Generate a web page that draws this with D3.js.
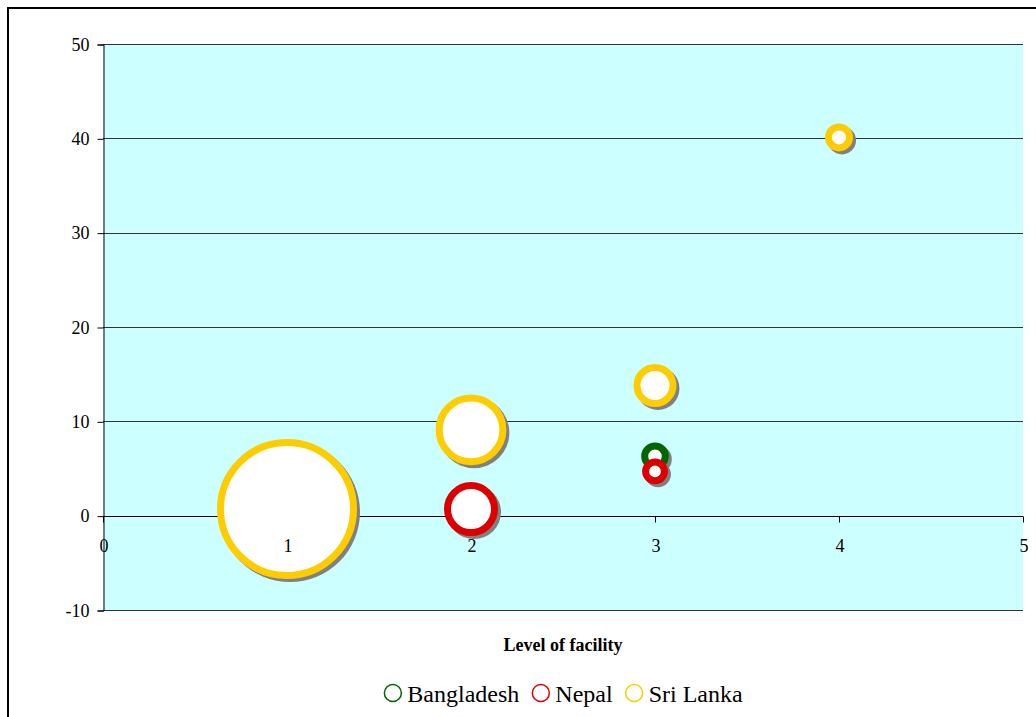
<!DOCTYPE html>
<html>
<head>
<meta charset="utf-8">
<script src="https://cdn.jsdelivr.net/npm/d3@7/dist/d3.min.js"></script>
<style>
  html, body { margin: 0; padding: 0; background: #fff; }
  svg { display: block; }
  text { font-family: "Liberation Serif", "Times New Roman", serif; fill: #000; }
</style>
</head>
<body>
<svg id="chart" width="1036" height="717"></svg>
<script>
// Series names and colours
const seriesNames = ["Bangladesh", "Nepal", "Sri Lanka"];
const seriesColors = ["#006600", "#dd0000", "#ffcc00"];

// Bubble data per country: facility level (x), value (y), bubble size
const bangladeshLevel = [3];
const bangladeshValue = [6.3];
const bangladeshSize  = [2.4];

const nepalLevel = [2, 3];
const nepalValue = [0.7, 4.7];
const nepalSize  = [12.5, 2.0];

const sriLankaLevel = [1, 2, 3, 4];
const sriLankaValue = [0.7, 9.1, 13.8, 40.1];
const sriLankaSize  = [100, 23, 7.3, 2.5];

// Axis ticks
const xTicks = [0, 1, 2, 3, 4, 5];
const yTicks = [-10, 0, 10, 20, 30, 40, 50];
const xTitle = "Level of facility";

const series = [
  { name: seriesNames[0], color: seriesColors[0], level: bangladeshLevel, value: bangladeshValue, size: bangladeshSize },
  { name: seriesNames[1], color: seriesColors[1], level: nepalLevel, value: nepalValue, size: nepalSize },
  { name: seriesNames[2], color: seriesColors[2], level: sriLankaLevel, value: sriLankaValue, size: sriLankaSize }
];

const svg = d3.select("#chart");
const plot = { left: 103, right: 1023, top: 44, bottom: 610 };

const x = d3.scaleLinear().domain([0, 5]).range([plot.left, plot.right]);
const y = d3.scaleLinear().domain([-10, 50]).range([plot.bottom, plot.top]);
const r = d3.scaleSqrt().domain([0, 100]).range([0, 66.5]);
const ringWidth = 7;
const plain = d => String(d);   // ASCII hyphen for negatives
const y0 = Math.round(y(0)) + 0.5;

// Outer frame
svg.append("rect")
  .attr("x", 8).attr("y", 8)
  .attr("width", 1040).attr("height", 720)
  .attr("fill", "none").attr("stroke", "#000").attr("stroke-width", 2);

// Plot background
svg.append("rect")
  .attr("x", plot.left).attr("y", plot.top)
  .attr("width", plot.right - plot.left).attr("height", plot.bottom - plot.top)
  .attr("fill", "#ccffff");

// Horizontal gridlines
svg.append("g")
  .selectAll("line")
  .data(yTicks.filter(d => d !== 0))
  .join("line")
  .attr("x1", plot.left).attr("x2", plot.right)
  .attr("y1", d => Math.round(y(d)) + 0.5).attr("y2", d => Math.round(y(d)) + 0.5)
  .attr("stroke", "#333").attr("stroke-width", 1);

// Y axis (left)
const gy = svg.append("g")
  .attr("transform", `translate(${plot.left + 0.5},0.5)`)
  .call(d3.axisLeft(y).tickValues(yTicks).tickSize(6).tickPadding(8).tickFormat(plain));
gy.select(".domain").attr("stroke", "#000");
gy.selectAll(".tick line").attr("stroke", "#000");
gy.selectAll(".tick text")
  .attr("font-size", 18)
  .attr("font-family", "Liberation Serif, Times New Roman, serif")
  .attr("fill", "#000");

// X axis line and tick marks at y = 0, drawn beneath the bubbles
const xAxisLine = svg.append("g");
xAxisLine.append("line")
  .attr("x1", plot.left).attr("x2", plot.right)
  .attr("y1", y0).attr("y2", y0)
  .attr("stroke", "#000");
xAxisLine.selectAll("line.tk")
  .data(xTicks)
  .join("line")
  .attr("class", "tk")
  .attr("x1", d => Math.round(x(d)) + 0.5).attr("x2", d => Math.round(x(d)) + 0.5)
  .attr("y1", y0).attr("y2", y0 + 6)
  .attr("stroke", "#000");

// Bubbles with drop shadows
const points = series.flatMap(s => s.level.map((lv, i) => ({
  name: s.name, color: s.color, level: lv, value: s.value[i], size: s.size[i]
})));

const bubbles = svg.append("g");
points.forEach(p => {
  const cx = x(p.level), cy = y(p.value), rr = r(p.size);
  bubbles.append("circle")
    .attr("cx", cx + 3).attr("cy", cy + 3)
    .attr("r", rr + ringWidth / 2)
    .attr("fill", "#808080");
  bubbles.append("circle")
    .attr("cx", cx).attr("cy", cy)
    .attr("r", rr)
    .attr("fill", "#fff")
    .attr("stroke", p.color)
    .attr("stroke-width", ringWidth);
});

// X tick labels, above the bubbles
const gx = svg.append("g")
  .attr("transform", `translate(0.5,${y0})`)
  .call(d3.axisBottom(x).tickValues(xTicks).tickSize(0).tickFormat(plain));
gx.select(".domain").remove();
gx.selectAll(".tick line").remove();
gx.selectAll(".tick text")
  .attr("font-size", 18)
  .attr("font-family", "Liberation Serif, Times New Roman, serif")
  .attr("fill", "#000")
  .attr("dy", null)
  .attr("y", 35);

// X axis title
svg.append("text")
  .attr("x", (plot.left + plot.right) / 2)
  .attr("y", 651)
  .attr("text-anchor", "middle")
  .attr("font-size", 18)
  .attr("font-weight", "bold")
  .text(xTitle);

// Legend
const legend = svg.append("g");
let cursor = 0;
series.forEach(s => {
  const g = legend.append("g");
  g.append("circle")
    .attr("cx", 9.5).attr("cy", 0).attr("r", 8.5)
    .attr("fill", "#fff").attr("stroke", s.color).attr("stroke-width", 1.5);
  const t = g.append("text")
    .attr("x", 24).attr("y", 9)
    .attr("font-size", 24)
    .text(s.name);
  const w = 24 + t.node().getComputedTextLength();
  g.attr("transform", `translate(${cursor},0)`);
  cursor += w + 12;
});
const legendWidth = cursor - 12;
legend.attr("transform", `translate(${(plot.left + plot.right) / 2 - legendWidth / 2},693)`);
</script>
</body>
</html>
